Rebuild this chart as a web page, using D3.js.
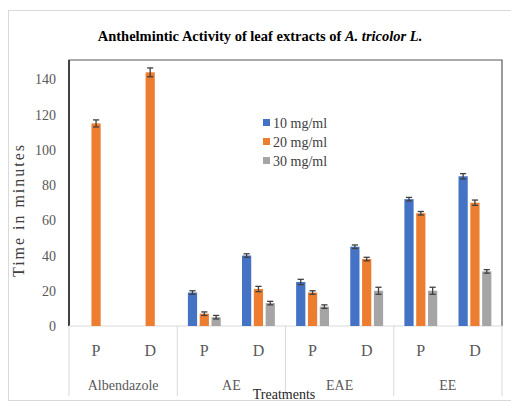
<!DOCTYPE html>
<html lang="en">
<head>
  <meta charset="utf-8">
  <title>Anthelmintic Activity</title>
  <script src="https://d3js.org/d3.v7.min.js"></script>
  <style>
    body { margin: 0; background: white; }
    text { font-family: "Liberation Serif", "DejaVu Serif", serif; }
  </style>
</head>
<body>
<script>
  var groups = ["Albendazole", "AE", "EAE", "EE"];
  var stages = ["P", "D"];
  var seriesNames = ["10 mg/ml", "20 mg/ml", "30 mg/ml"];
  var colors = ["#4472C4", "#ED7D31", "#A5A5A5"];

  // one row per group/stage, values per series (null = no bar)
  var val10 = [null, null, 19, 40, 25, 45, 72, 85];
  var val20 = [115, 144, 7, 21, 19, 38, 64, 70];
  var val30 = [null, null, 5, 13, 11, 20, 20, 31];
  var err10 = [0, 0, 1, 1, 1.5, 1, 1, 1.5];
  var err20 = [2, 2.5, 1, 1.5, 1, 1, 1, 1.5];
  var err30 = [0, 0, 1, 1, 1, 2, 2, 1];
  var yTicks = [0, 20, 40, 60, 80, 100, 120, 140];

  var width = 511, height = 407;
  var mLeft = 69, mRight = 502, mTop = 60, mBottom = 326;

  var svg = d3.select("body").append("svg")
    .attr("width", width).attr("height", height);

  // chart frame
  svg.append("rect").attr("x", 8.5).attr("y", 10.5).attr("width", 520).attr("height", 390)
    .attr("fill", "white").attr("stroke", "#d9d9d9");

  var cats = [];
  groups.forEach(function (g) { stages.forEach(function (s) { cats.push(g + "|" + s); }); });

  var x = d3.scaleBand().domain(cats).range([mLeft, mRight]);
  var xs = d3.scaleBand().domain(seriesNames).range([0, x.bandwidth()])
    .paddingInner(0.22).paddingOuter(0.9);
  var y = d3.scaleLinear().domain([0, 151]).range([mBottom, mTop]);

  // plot border
  svg.append("path")
    .attr("d", "M" + mLeft + "," + mBottom + "V" + mTop + "H" + mRight + "V" + mBottom)
    .attr("fill", "none").attr("stroke", "#595959").attr("stroke-width", 1.2);
  svg.append("line").attr("x1", mLeft).attr("x2", mLeft).attr("y1", mTop).attr("y2", mBottom)
    .attr("stroke", "#111").attr("stroke-width", 1.3);
  svg.append("line").attr("x1", mLeft).attr("x2", mRight).attr("y1", mBottom).attr("y2", mBottom)
    .attr("stroke", "#d9d9d9");

  // y ticks
  svg.selectAll(".ytick").data(yTicks).enter().append("text")
    .attr("x", 56).attr("y", function (d) { return y(d) + 5; })
    .attr("text-anchor", "end").attr("font-size", 14).attr("fill", "#595959")
    .text(function (d) { return d; });

  svg.append("text")
    .attr("transform", "translate(24,211) rotate(-90)")
    .attr("text-anchor", "middle").attr("font-size", 16).attr("fill", "#404040")
    .attr("textLength", 132).attr("lengthAdjust", "spacing")
    .text("Time in minutes");

  // bars
  var vals = [val10, val20, val30];
  var errs = [err10, err20, err30];
  var bars = [];
  cats.forEach(function (c, i) {
    seriesNames.forEach(function (s, k) {
      if (vals[k][i] != null) bars.push({ cat: c, s: s, k: k, v: vals[k][i], e: errs[k][i] });
    });
  });

  svg.selectAll(".bar").data(bars).enter().append("rect")
    .attr("x", function (d) { return x(d.cat) + xs(d.s); })
    .attr("width", xs.bandwidth())
    .attr("y", function (d) { return y(d.v); })
    .attr("height", function (d) { return mBottom - y(d.v); })
    .attr("fill", function (d) { return colors[d.k]; });

  var eb = svg.selectAll(".err").data(bars).enter().append("g")
    .attr("stroke", "#404040").attr("stroke-width", 1.3);
  eb.append("line")
    .attr("x1", function (d) { return x(d.cat) + xs(d.s) + xs.bandwidth() / 2; })
    .attr("x2", function (d) { return x(d.cat) + xs(d.s) + xs.bandwidth() / 2; })
    .attr("y1", function (d) { return y(d.v - d.e); })
    .attr("y2", function (d) { return y(d.v + d.e); });
  eb.selectAll("line.cap").data(function (d) { return [d.v - d.e, d.v + d.e].map(function (v) { return { d: d, v: v }; }); })
    .enter().append("line").attr("class", "cap")
    .attr("x1", function (o) { return x(o.d.cat) + xs(o.d.s) + 1.5; })
    .attr("x2", function (o) { return x(o.d.cat) + xs(o.d.s) + xs.bandwidth() - 1.5; })
    .attr("y1", function (o) { return y(o.v); })
    .attr("y2", function (o) { return y(o.v); });

  // category axis
  var gw = x.bandwidth() * 2;
  d3.range(groups.length + 1).forEach(function (i) {
    svg.append("line").attr("x1", mLeft + i * gw).attr("x2", mLeft + i * gw)
      .attr("y1", mBottom).attr("y2", 396).attr("stroke", "#d9d9d9");
  });
  svg.selectAll(".stage").data(cats).enter().append("text")
    .attr("x", function (d) { return x(d) + x.bandwidth() / 2; })
    .attr("y", 356).attr("text-anchor", "middle").attr("font-size", 16).attr("fill", "#595959")
    .text(function (d) { return d.split("|")[1]; });
  svg.selectAll(".group").data(groups).enter().append("text")
    .attr("x", function (d, i) { return mLeft + i * gw + gw / 2; })
    .attr("y", 390).attr("text-anchor", "middle").attr("font-size", 14).attr("fill", "#595959")
    .text(function (d) { return d; });

  svg.append("text").attr("x", 284).attr("y", 399).attr("text-anchor", "middle")
    .attr("font-size", 14).attr("fill", "#262626").text("Treatments");

  // title
  var title = svg.append("text").attr("x", 260).attr("y", 41).attr("text-anchor", "middle")
    .attr("font-size", 14.5).attr("font-weight", "bold").attr("fill", "#000");
  title.append("tspan").text("Anthelmintic  Activity  of leaf extracts of ");
  title.append("tspan").attr("font-style", "italic").text("A. tricolor L.");

  // legend
  var lg = svg.selectAll(".leg").data(seriesNames).enter().append("g")
    .attr("transform", function (d, i) { return "translate(263," + (124 + i * 19) + ")"; });
  lg.append("rect").attr("x", 0).attr("y", -5).attr("width", 7).attr("height", 7)
    .attr("fill", function (d, i) { return colors[i]; });
  lg.append("text").attr("x", 10).attr("y", 4).attr("font-size", 14).attr("fill", "#404040")
    .text(function (d) { return d; });
</script>
</body>
</html>
